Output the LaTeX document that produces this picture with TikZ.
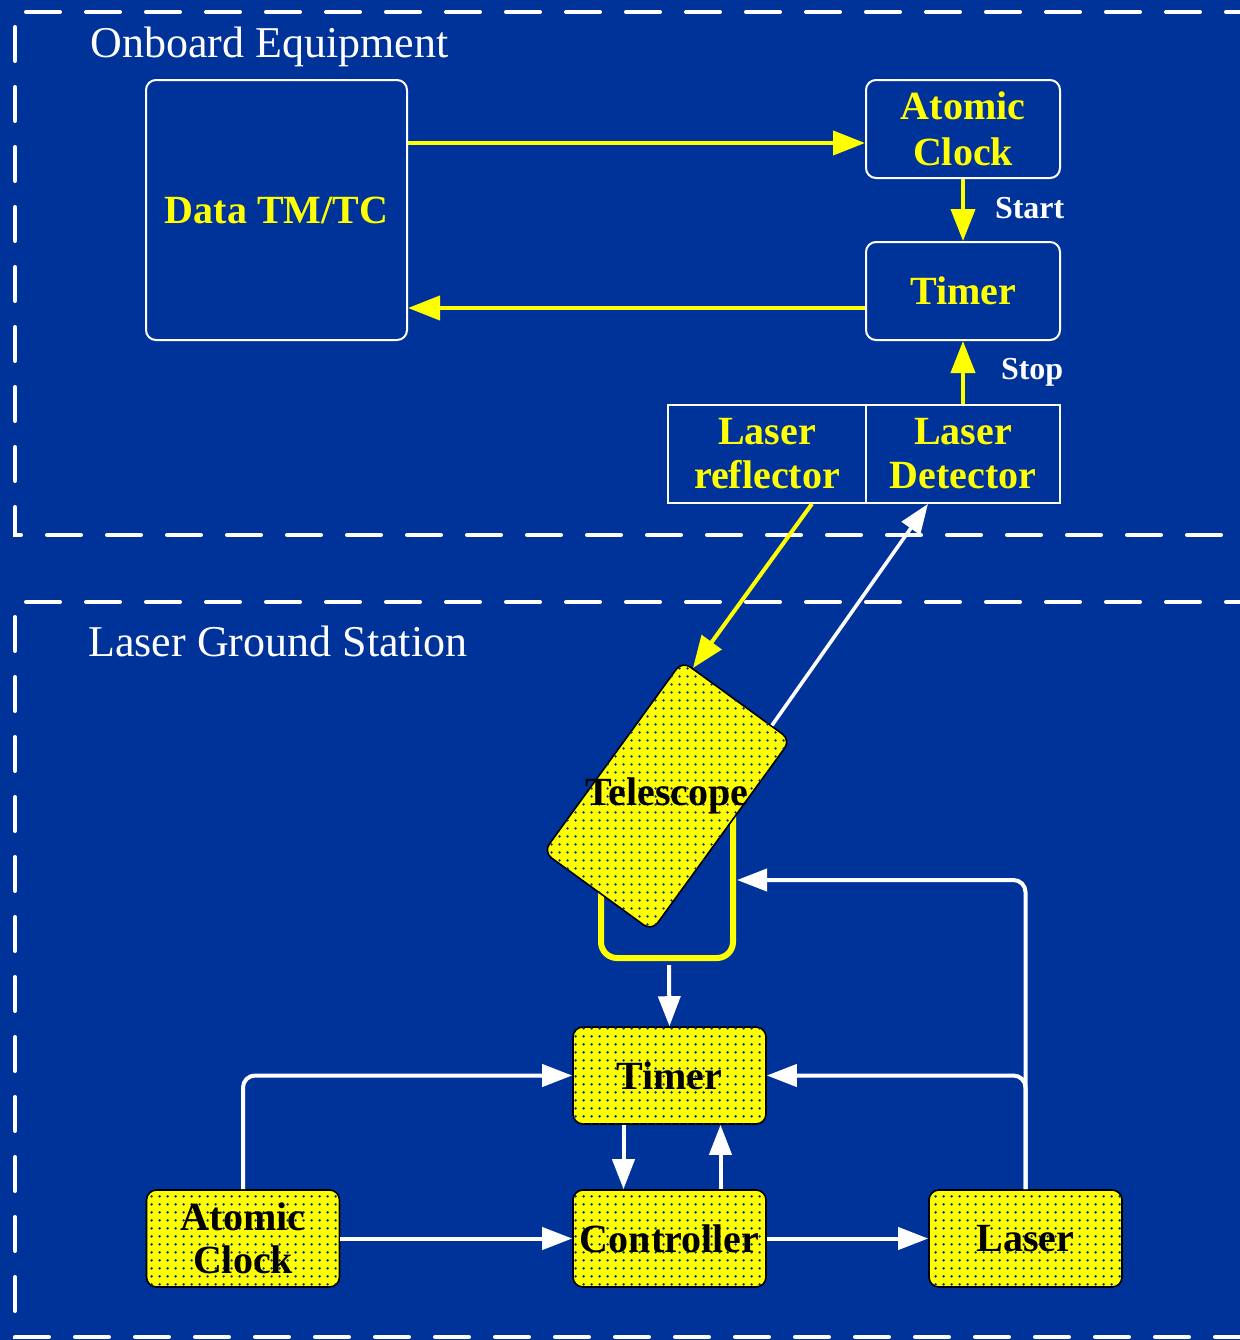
\documentclass[tikz,border=0pt]{standalone}
\usepackage{fontspec}
\setmainfont{Liberation Serif}
\usetikzlibrary{arrows.meta,patterns.meta,calc}
\definecolor{bgblue}{RGB}{0,51,153}
\definecolor{ylw}{RGB}{255,255,0}

\begin{document}
\begin{tikzpicture}[x=0.5pt, y=-0.5pt]
    % Styles
    \tikzset{
      frame/.style={draw=white, line width=2pt, dash pattern=on 17pt off 13pt, line cap=round},
      title/.style={text=white, font=\fontsize{22}{24}\selectfont, anchor=west, inner sep=0pt},
      onbox/.style={draw=white, line width=1pt, rounded corners=5pt, text=ylw, align=center, inner sep=0pt, minimum width=97pt, minimum height=49pt, font=\bfseries\fontsize{20}{23}\selectfont},
      plainbox/.style={draw=white, line width=0.8pt, text=ylw, align=center, inner sep=0pt, minimum height=49pt, font=\bfseries\fontsize{20}{22}\selectfont},
      gndbox/.style={draw=black, line width=0.8pt, rounded corners=5pt, fill=ylw, postaction={pattern={Dots[distance=4pt,radius=0.75pt]}, pattern color=bgblue}, align=center, inner sep=0pt, minimum width=96.5pt, minimum height=48.5pt, text=black, font=\bfseries\fontsize{20}{21.5}\selectfont},
      yarrow/.style={draw=ylw, line width=2pt, -{Triangle[length=16pt,width=12pt]}},
      warrow/.style={draw=white, line width=2pt, rounded corners=6pt, -{Triangle[length=15pt,width=11pt]}},
      tag/.style={text=white, font=\bfseries\fontsize{16}{18}\selectfont, inner sep=0pt}
    }

    % Background and frames
    \useasboundingbox (0,0) rectangle (1240,1340);
    \fill[bgblue] (0,0) rectangle (1240,1340);
    \draw[frame] (1260,12) -- (15,12) -- (15,535) -- (1260,535);
    \draw[frame] (1260,602) -- (15,602) -- (15,1337) -- (1260,1337);
    \node[title] (onboard) at (90,47) {Onboard Equipment};
    \node[title] (ground) at (88,641) {Laser Ground Station};

    % Onboard nodes
    \node[onbox, minimum width=130.5pt, minimum height=130pt] (data) at (276.5,210) {Data TM/TC};
    \node[onbox] (aclk) at (963,129) {Atomic\\Clock};
    \node[onbox] (tmr) at (963,291) {Timer};
    \node[plainbox, minimum width=99pt] (refl) at (767,454) {Laser\\reflector};
    \node[plainbox, minimum width=97pt] (det) at (963,454) {Laser\\Detector};

    % Onboard arrows
    \draw[yarrow] ([yshift=-7pt]aclk.west -| data.east) -- ([yshift=-7pt]aclk.west);
    \draw[yarrow] ([yshift=-8.5pt]tmr.west) -- ([yshift=-8.5pt]tmr.west -| data.east);
    \draw[yarrow] (aclk.south) -- node[tag, right=15pt, yshift=1pt] (start) {Start} (tmr.north);
    \draw[yarrow] (det.north) -- node[tag, right=18pt] (stop) {Stop} (tmr.south);

    % Telescope on its mount
    \draw[ylw, line width=3pt, rounded corners=8pt] (601,870) -- (601,958) -- (733,958) -- (733,800);
    \coordinate (mount) at (669,965);
    \coordinate (armr) at (737,880);
    \node[gndbox, minimum width=118pt, minimum height=67pt, rotate=54] (tel) at (667,796) {};
    \node[text=black, inner sep=0pt, font=\bfseries\fontsize{20}{22}\selectfont] (tellabel) at (tel.center) {Telescope};

    % Ground nodes
    \node[gndbox] (gtmr) at (669.5,1075.5) {Timer};
    \node[gndbox] (ctrl) at (669.5,1238.5) {Controller};
    \node[gndbox] (gclk) at (243,1238.5) {Atomic\\Clock};
    \node[gndbox] (laser) at (1025.5,1238.5) {Laser};

    % Laser links
    \draw[yarrow] ([xshift=22.5pt]refl.south) -- ($(tel.north east)!0.1!(tel.south east)$);
    \draw[warrow, line width=1.8pt] ($(tel.north east)!0.82!(tel.south east)$) -- ([xshift=-17.5pt]det.south);

    % Ground arrows
    \draw[warrow] (mount) -- (gtmr.north);
    \draw[warrow] (gclk.north) |- (gtmr.west);
    \draw[warrow] (gclk.east) -- (ctrl.west);
    \draw[warrow] ([xshift=-23pt]gtmr.south) -- ([xshift=-23pt]ctrl.north);
    \draw[warrow] ([xshift=25.5pt]ctrl.north) -- ([xshift=25.5pt]gtmr.south);
    \draw[warrow] (ctrl.east) -- (laser.west);
    \draw[warrow] (laser.north) |- (gtmr.east);
    \draw[warrow] (laser.north) |- (armr);
\end{tikzpicture}
\end{document}
